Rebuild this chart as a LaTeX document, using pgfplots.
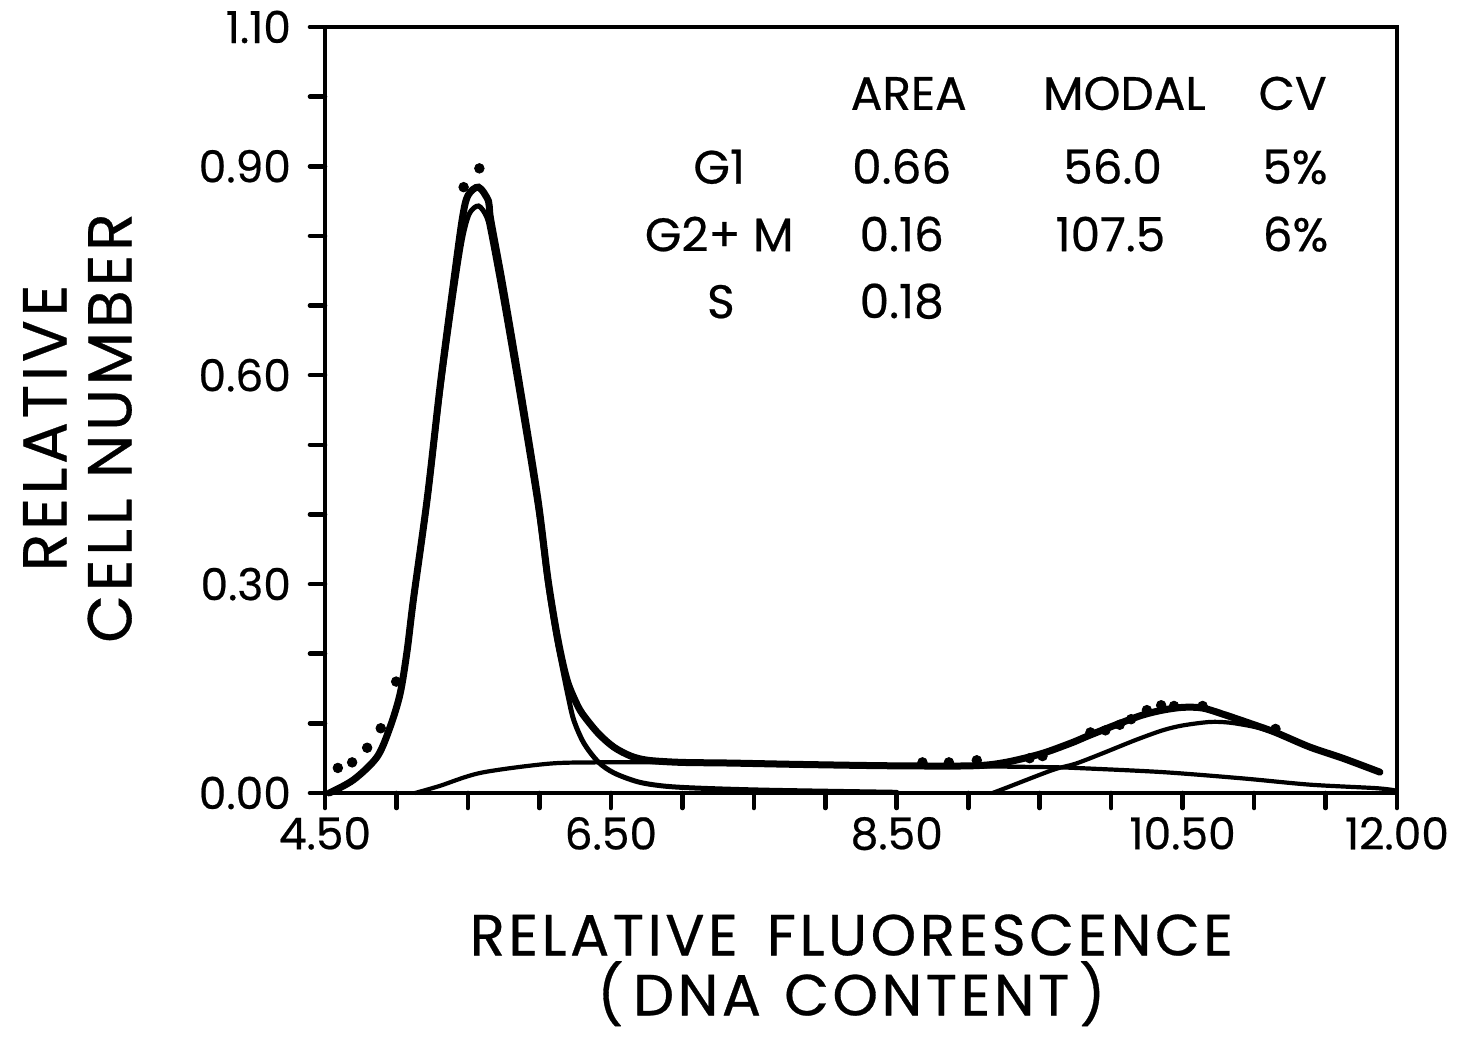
\documentclass[border=0pt]{standalone}
\usepackage{fontspec}
\setmainfont{Poppins}[FakeBold=0.5]
\newfontfamily\lblfont{Poppins}[LetterSpace=6, FakeBold=0.5]
\usepackage{pgfplots}
\pgfplotsset{compat=1.18}
\usepackage{pgfplotstable}

\pgfplotstableread{
x y
4.53 0.000
4.70 0.019
4.865 0.052
4.956 0.095
5.026 0.143
5.075 0.205
5.118 0.277
5.216 0.424
5.307 0.587
5.398 0.731
5.461 0.825
5.50 0.858
5.574 0.870
5.644 0.850
5.658 0.825
5.742 0.731
5.861 0.587
5.988 0.424
6.058 0.310
6.114 0.238
6.16 0.190
6.20 0.158
6.25 0.133
6.30 0.114
6.41 0.086
6.52 0.066
6.64 0.053
6.76 0.047
6.99 0.044
7.34 0.043
7.83 0.041
8.53 0.039
9.12 0.040
9.47 0.054
9.71 0.071
9.85 0.083
10.06 0.100
10.22 0.112
10.36 0.119
10.50 0.123
10.64 0.122
10.80 0.112
11.00 0.098
11.15 0.087
11.39 0.066
11.62 0.050
11.88 0.030
}\total

\pgfplotstableread{
x y
4.53 0.000
4.70 0.019
4.865 0.051
4.956 0.094
5.026 0.141
5.075 0.202
5.118 0.273
5.216 0.418
5.307 0.575
5.398 0.712
5.461 0.795
5.51 0.832
5.574 0.843
5.63 0.828
5.658 0.805
5.742 0.712
5.861 0.570
5.988 0.410
6.058 0.300
6.114 0.228
6.16 0.180
6.20 0.140
6.24 0.105
6.31 0.072
6.41 0.045
6.52 0.029
6.69 0.016
6.87 0.010
7.11 0.007
7.60 0.004
8.50 0.001
}\gone

\pgfplotstableread{
x y
5.13 0.000
5.30 0.010
5.59 0.029
6.06 0.042
6.41 0.044
6.99 0.044
7.50 0.042
8.50 0.039
9.20 0.038
9.59 0.037
9.75 0.036
10.36 0.030
10.92 0.021
11.39 0.012
11.85 0.007
11.98 0.004
}\sphase

\pgfplotstableread{
x y
9.17 0.000
9.26 0.007
9.59 0.033
9.75 0.042
9.94 0.057
10.17 0.076
10.36 0.090
10.50 0.097
10.69 0.102
10.83 0.101
11.00 0.095
11.15 0.086
11.39 0.066
}\gtwo

\pgfplotstableread{
x y
4.59 0.036
4.69 0.044
4.795 0.065
4.89 0.093
4.998 0.160
5.47 0.870
5.58 0.897
8.68 0.044
8.865 0.044
9.06 0.047
9.43 0.050
9.52 0.053
9.855 0.087
9.96 0.090
10.06 0.098
10.14 0.106
10.25 0.119
10.35 0.126
10.44 0.125
10.64 0.125
11.15 0.092
}\dots

\begin{document}
\begin{tikzpicture}
\begin{axis}[
  scale only axis, width=536pt, height=383pt,
  xmin=4.5, xmax=12, ymin=0, ymax=1.1,
  xtick={4.5,5,5.5,6,6.5,7,7.5,8,8.5,9,9.5,10,10.5,11,11.5,12},
  xticklabels={4.50,,,,6.50,,,,8.50,,,,10.50,,,12.00},
  ytick={0,0.1,0.2,0.3,0.4,0.5,0.6,0.7,0.8,0.9,1.0,1.1},
  yticklabels={0.00,,,0.30,,,0.60,,,0.90,,1.10},
  tick align=outside, xtick pos=bottom, ytick pos=left,
  major tick length=7.5pt,
  tick style={line width=2.3pt, black, line cap=round},
  axis line style={line width=2.3pt},
  tick label style={font=\fontsize{22}{24}\selectfont},
  yticklabel style={xshift=-6pt},
  xticklabel style={yshift=-1pt},
  xlabel={RELATIVE\hspace{0.5em}FLUORESCENCE\\(\,DNA\hspace{0.4em}CONTENT\,)},
  xlabel style={at={(axis description cs:0.491,0)}, anchor=north, yshift=-60.5pt, inner sep=0pt, align=center, font=\lblfont\fontsize{29}{30}\selectfont},
  ylabel={RELATIVE\\CELL NUMBER},
  ylabel style={at={(axis description cs:-0.2309,0.4765)}, anchor=center, inner sep=0pt, align=center, font=\lblfont\fontsize{31}{32.5}\selectfont},
  clip=false,
]
\addplot[line width=3.5pt, line cap=round, smooth, tension=0.5] table {\total};
\addplot[line width=2.5pt, line cap=round, smooth, tension=0.5] table {\gone};
\addplot[line width=2.1pt, line cap=round, smooth, tension=0.5] table {\sphase};
\addplot[line width=2.1pt, line cap=round, smooth, tension=0.5] table {\gtwo};
\addplot[only marks, mark=*, mark size=2.4pt] table {\dots};

\begin{scope}[every node/.style={font=\fontsize{23.5}{27}\selectfont, anchor=base, inner sep=0pt}]
\node at (axis cs:8.584,0.981) {AREA};
\node at (axis cs:10.093,0.981) {MODAL};
\node at (axis cs:11.27,0.981) {CV};
\node at (axis cs:7.258,0.875) {G1};
\node at (axis cs:8.535,0.875) {0.66};
\node at (axis cs:10.01,0.875) {56.0};
\node at (axis cs:11.286,0.875) {5\%};
\node at (axis cs:7.258,0.778) {G2+ M};
\node at (axis cs:8.535,0.778) {0.16};
\node at (axis cs:9.995,0.778) {107.5};
\node at (axis cs:11.29,0.778) {6\%};
\node at (axis cs:7.27,0.682) {S};
\node at (axis cs:8.535,0.682) {0.18};
\end{scope}
\end{axis}
\pgfresetboundingbox
\path[use as bounding box] ([xshift=-162.5pt,yshift=-123pt]current axis.south west) rectangle ([xshift=33.5pt,yshift=13.5pt]current axis.north east);
\end{tikzpicture}
\end{document}
